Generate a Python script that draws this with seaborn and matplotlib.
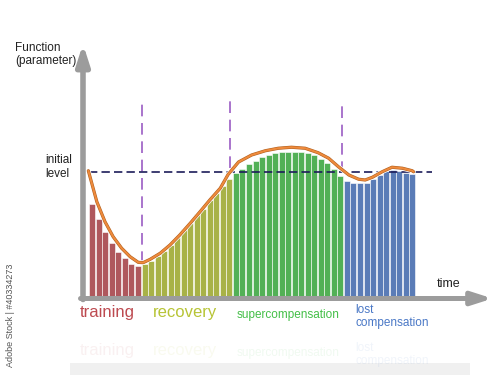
import pandas as pd
import seaborn as sns
import matplotlib.pyplot as plt
import matplotlib.patheffects as pe

# bar heights (initial level = 100)
training = [74.4, 62.4, 52.0, 43.2, 36.0, 31.2, 26.4, 24.8]
recovery = [26.4, 29.0, 32.8, 37.0, 41.6, 47.8, 54.2, 59.2, 66.4, 70.6,
            77.6, 83.0, 89.0, 94.4]
supercomp = [99.0, 102.2, 106.4, 109.0, 111.8, 113.8, 115.4, 116.2, 116.2,
             116.2, 116.0, 115.0, 113.4, 110.6, 107.4, 102.8, 96.8]
lost = [93.0, 91.4, 91.0, 91.4, 94.2, 97.6, 100.8, 101.6, 100.8, 99.4, 98.4]

phases = ['training', 'recovery', 'supercompensation', 'lost\ncompensation']
phase_colors = ['#bd4a50', '#b7c435', '#43bf47', '#4a78c6']
edge_colors = ['#9a3a40', '#9aa62a', '#35a03a', '#3a62a8']

# smooth function curve (x in bar units)
curve_x = [-0.6, 0.7, 1.95, 3.2, 4.5, 5.8, 7.05, 7.8, 8.85, 10.4, 11.9,
           13.4, 15.0, 16.5, 18.0, 19.6, 20.8, 22.4, 24.4, 26.5, 28.5,
           30.5, 32.6, 34.6, 36.2, 37.7, 39.3, 40.8, 41.8, 42.9, 44.4,
           45.9, 47.5, 49.0, 49.2]
curve_y = [101, 76.2, 60.2, 48.2, 39.0, 32.2, 27.7, 27.5, 30.1, 35.0, 41.6,
           49.6, 59.0, 68.2, 77.6, 87.0, 98.0, 108.0, 113.6, 117.0, 119.0,
           119.8, 119.0, 115.4, 111.0, 104.2, 97.6, 94.2, 93.6, 95.8, 100.2,
           103.8, 103.0, 101.0, 100.2]

initial_level = 100
boundaries = [7.6, 21.1, 38.2]
boundary_bottoms = [27.5, 103.0, 99.0]

rows = []
for name, vals in zip(phases, [training, recovery, supercomp, lost]):
    for v in vals:
        rows.append({'phase': name, 'value': v})
df = pd.DataFrame(rows)
df['idx'] = range(len(df))

sns.set_theme(style="white")
plt.rcParams['font.family'] = ['Liberation Sans', 'DejaVu Sans']

fig = plt.figure(figsize=(5, 3.75), dpi=100)
ax = fig.add_axes([0, 0, 1, 1])

sns.barplot(data=df, x='idx', y='value', hue='phase', palette=phase_colors,
            hue_order=phases, dodge=False, width=0.92, legend=False,
            linewidth=0.4, ax=ax)
for patch in ax.patches:
    fc = patch.get_facecolor()
    for c, e in zip(phase_colors, edge_colors):
        if abs(fc[0] - int(c[1:3], 16) / 255) < 0.01 and abs(fc[1] - int(c[3:5], 16) / 255) < 0.01:
            patch.set_edgecolor(e)

# curve
ax.plot(curve_x, curve_y, color='#ee8a3c', lw=1.5, zorder=5,
        path_effects=[pe.Stroke(linewidth=3.4, foreground='white'),
                      pe.Stroke(linewidth=2.3, foreground='#b0601f'),
                      pe.Normal()])

# initial level
ax.plot([-0.5, 52.0], [initial_level, initial_level], color='#1c1c5a', lw=1.2,
        ls=(0, (5, 2.5)), zorder=4)

# phase boundaries
for bx, bb in zip(boundaries, boundary_bottoms):
    ax.plot([bx, bx], [bb, 157.6], color='#9b5cc4', lw=1.2,
            ls=(0, (7, 4)), zorder=3)

# axes arrows
ax.annotate('', xy=(-1.42, 202.5), xytext=(-1.42, -2.0),
            arrowprops=dict(arrowstyle='-|>,head_width=0.32,head_length=1.0',
                            lw=4.0, color='#9c9c9c', shrinkA=0, shrinkB=0),
            zorder=6)
ax.annotate('', xy=(61.3, -1.2), xytext=(-1.8, -1.2),
            arrowprops=dict(arrowstyle='-|>,head_width=0.32,head_length=1.0',
                            lw=3.6, color='#9c9c9c', shrinkA=0, shrinkB=0),
            zorder=6)

ax.set_xlim(-14.13, 62.44)
ax.set_ylim(-62.4, 237.6)
ax.axis('off')

def fx(px):
    return px / 500

def fy(py):
    return 1 - py / 375

fig.text(fx(15), fy(42), 'Function\n(parameter)', fontsize=8.5, va='top',
         ha='left', color='#222222', linespacing=1.15)
fig.text(fx(45), fy(154), 'initial\nlevel', fontsize=8.5, va='top', ha='left',
         color='#222222', linespacing=1.2)
fig.text(fx(437), fy(278), 'time', fontsize=9, va='top', ha='left',
         color='#222222')

label_x = [80, 153, 237, 355]
label_y = [305, 305, 309, 304]
label_size = [12, 12, 8.5, 8.5]
for name, c, lx, ly, s in zip(phases, phase_colors, label_x, label_y, label_size):
    fig.text(fx(lx), fy(ly), name, fontsize=s, color=c, va='top', ha='left',
             linespacing=1.1)
    fig.text(fx(lx), fy(ly + 38), name, fontsize=s, color=c, va='top',
             ha='left', alpha=0.08, linespacing=1.1)

fig.patches.append(plt.Rectangle((fx(70), fy(375)), fx(400), 12 / 375,
                                 transform=fig.transFigure, color='#d0d0d0',
                                 alpha=0.3, lw=0))

fig.text(fx(6), fy(264), 'Adobe Stock | #40334273', rotation=90, fontsize=6.5,
         color='#555555', va='top', ha='left')

fig.savefig('out.png', dpi=100, facecolor='white')
